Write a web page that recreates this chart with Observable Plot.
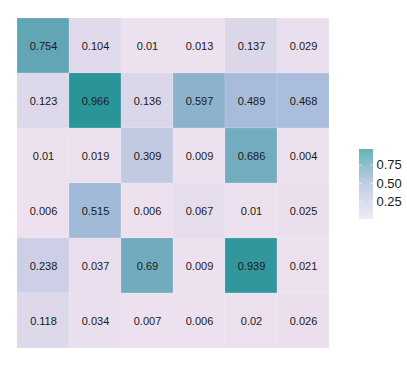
<!DOCTYPE html>
<html>
<head>
<meta charset="utf-8">
<script src="https://cdn.jsdelivr.net/npm/d3@7"></script>
<script src="https://cdn.jsdelivr.net/npm/@observablehq/plot@0.6"></script>
<style>
  html, body { margin: 0; padding: 0; background: #fff; }
  #wrap { position: relative; width: 407px; height: 366px; font-family: "Liberation Sans", Arial, sans-serif; }
  #main { position: absolute; left: 0; top: 0; }
  #legend { position: absolute; left: 359px; top: 140px; }
</style>
</head>
<body>
<div id="wrap"><div id="main"></div><div id="legend"></div></div>
<script>
const rowNames = ["R1", "R2", "R3", "R4", "R5", "R6"];
const colNames = ["C1", "C2", "C3", "C4", "C5", "C6"];
const values = [
  [0.754, 0.104, 0.01, 0.013, 0.137, 0.029],
  [0.123, 0.966, 0.136, 0.597, 0.489, 0.468],
  [0.01, 0.019, 0.309, 0.009, 0.686, 0.004],
  [0.006, 0.515, 0.006, 0.067, 0.01, 0.025],
  [0.238, 0.037, 0.69, 0.009, 0.939, 0.021],
  [0.118, 0.034, 0.007, 0.006, 0.02, 0.026]
];
const legendTicks = [0.25, 0.5, 0.75];
const paletteColors = ["#eee1ef", "#a8bcdb", "#2a9599"];

const data = [];
rowNames.forEach((r, i) => colNames.forEach((c, j) => data.push({row: r, col: c, value: values[i][j]})));
const lo = d3.min(data, d => d.value), hi = d3.max(data, d => d.value);
const colorOpts = {type: "linear", domain: [lo, (lo + hi) / 2, hi], range: paletteColors, interpolate: "rgb"};

const main = Plot.plot({
  width: 340, height: 366,
  marginLeft: 15.5, marginRight: 10, marginTop: 16, marginBottom: 17,
  style: {fontFamily: "Liberation Sans, Arial, sans-serif", fontSize: "11px", background: "transparent"},
  x: {domain: colNames, axis: null, padding: 0},
  y: {domain: rowNames, axis: null, padding: 0},
  color: colorOpts,
  marks: [
    Plot.cell(data, {x: "col", y: "row", fill: "value", inset: 0, stroke: "white", strokeOpacity: 0.25, strokeWidth: 0.5}),
    Plot.text(data, {x: "col", y: "row", text: d => String(d.value), fill: "#1a1a1a", fontSize: 11})
  ]
});
document.getElementById("main").appendChild(main);

const step = (hi - lo) / 200;
const bands = d3.range(200).map(k => lo + k * step);
const legend = Plot.plot({
  width: 48, height: 90,
  marginLeft: 0, marginRight: 34, marginTop: 9, marginBottom: 11,
  style: {fontFamily: "Liberation Sans, Arial, sans-serif", fontSize: "13px", background: "transparent", color: "#1a1a1a", overflow: "visible"},
  x: {domain: [0, 1], axis: null},
  y: {domain: [lo, hi], axis: "right", ticks: legendTicks, tickFormat: ".2f", tickSize: 0, tickPadding: 3, label: null},
  color: colorOpts,
  marks: [
    Plot.rect(bands, {x1: 0, x2: 1, y1: d => d, y2: d => Math.min(hi, d + step * 1.05), fill: d => d + step / 2}),
    Plot.ruleY(legendTicks, {x1: 0, x2: 0.2, stroke: "white", strokeOpacity: 0.6}),
    Plot.ruleY(legendTicks, {x1: 0.8, x2: 1, stroke: "white", strokeOpacity: 0.6})
  ]
});
document.getElementById("legend").appendChild(legend);
</script>
</body>
</html>
